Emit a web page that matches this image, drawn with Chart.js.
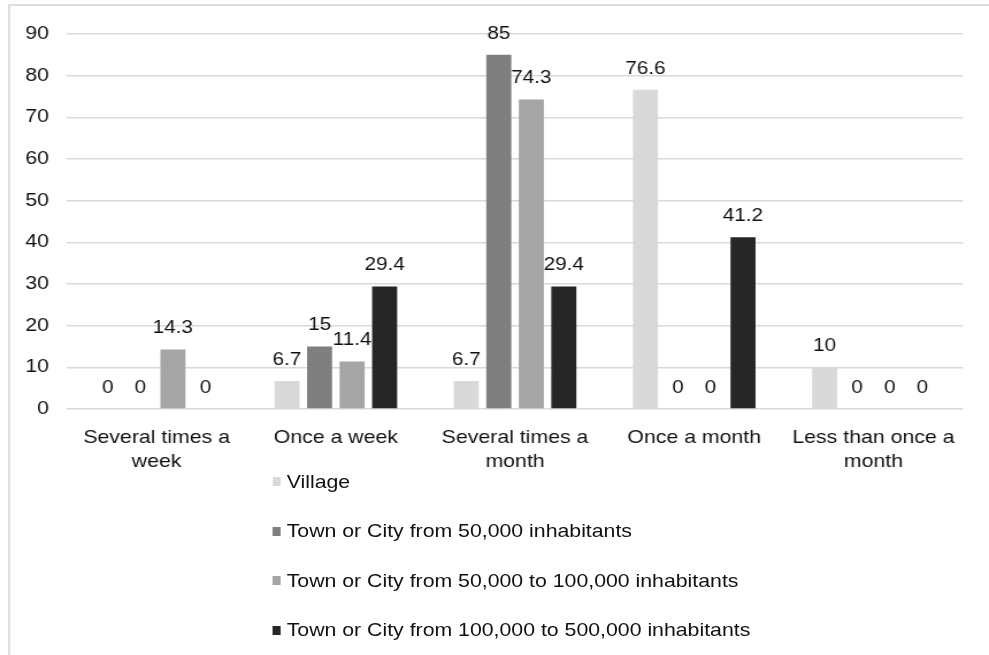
<!DOCTYPE html>
<html>
<head>
<meta charset="utf-8">
<script src="https://cdn.jsdelivr.net/npm/chart.js@4/dist/chart.umd.min.js"></script>
<style>
    html, body { margin: 0; padding: 0; background: #fff; }
    body { width: 989px; height: 655px; overflow: hidden; }
    /* layout is done at 860px wide and stretched to 989px */
    #stage { position: relative; width: 860px; height: 655px; transform: scaleX(1.15); transform-origin: 0 0; }
    #frame { position: absolute; left: 6.5px; top: 4px; right: -20px; bottom: -20px;
             border-top: 2px solid #dedede; border-left: 2px solid #dedede; }
    #chartBox { position: absolute; left: 0; top: 0; width: 860px; height: 485px; }
    #legend { position: absolute; left: 236.5px; top: 0; }
    .legend-item { position: absolute; left: 0; display: flex; align-items: center; white-space: nowrap;
                   height: 22px; font: 18.5px "Liberation Sans", Arial, sans-serif; color: #111; }
    .legend-box { width: 7.8px; height: 9px; margin-right: 5px; flex: none; }
</style>
</head>
<body>
<div id="stage">
    <div id="frame"></div>
    <div id="chartBox"><canvas id="freqChart"></canvas></div>
    <div id="legend"></div>
</div>
<script>
const categories = [
    ["Several times a", "week"],
    ["Once a week"],
    ["Several times a", "month"],
    ["Once a month"],
    ["Less than once a", "month"]
];
const village = [0, 6.7, 6.7, 76.6, 10];
const town50k = [0, 15, 85, 0, 0];
const town50to100k = [14.3, 11.4, 74.3, 0, 0];
const town100to500k = [0, 29.4, 29.4, 41.2, 0];
const yTicks = [0, 10, 20, 30, 40, 50, 60, 70, 80, 90];

const FONT = '"Liberation Sans", Arial, sans-serif';
const TEXT = '#111';

// value printed above every bar, zeros included
const barValueLabels = {
    id: 'barValueLabels',
    afterDatasetsDraw(chart) {
        const ctx = chart.ctx;
        ctx.save();
        ctx.font = '18px ' + FONT;
        ctx.fillStyle = TEXT;
        ctx.textAlign = 'center';
        ctx.textBaseline = 'middle';
        chart.data.datasets.forEach((ds, i) => {
            chart.getDatasetMeta(i).data.forEach((bar, j) => {
                ctx.fillText(String(ds.data[j]), bar.x, bar.y - 21);
            });
        });
        ctx.restore();
    }
};

const ctx = document.getElementById('freqChart').getContext('2d');
const chart = new Chart(ctx, {
    type: 'bar',
    data: {
        labels: categories,
        datasets: [
            { label: 'Village', data: village, backgroundColor: '#d9d9d9' },
            { label: 'Town or City from 50,000 inhabitants', data: town50k, backgroundColor: '#7f7f7f' },
            { label: 'Town or City from 50,000 to 100,000 inhabitants', data: town50to100k, backgroundColor: '#a5a5a5' },
            { label: 'Town or City from 100,000 to 500,000 inhabitants', data: town100to500k, backgroundColor: '#262626' }
        ]
    },
    options: {
        responsive: true,
        maintainAspectRatio: false,
        animation: false,
        datasets: { bar: { categoryPercentage: 0.726, barPercentage: 0.77, borderWidth: 0 } },
        layout: { padding: { top: 34, right: 22.6, bottom: 0, left: 0 } },
        scales: {
            x: {
                grid: { display: false },
                border: { display: false },
                ticks: {
                    color: TEXT,
                    font: { family: FONT, size: 18.5, lineHeight: 1.3 },
                    padding: 9,
                    maxRotation: 0,
                    autoSkip: false
                },
                // axis line stays at y=409 whatever the canvas height
                afterFit: (scale) => { scale.height = 485 - 409; }
            },
            y: {
                min: yTicks[0],
                max: yTicks[yTicks.length - 1],
                afterBuildTicks: (scale) => { scale.ticks = yTicks.map(v => ({ value: v })); },
                grid: { color: '#d9d9d9', lineWidth: 1.5, drawTicks: false },
                border: { display: false },
                ticks: {
                    color: TEXT,
                    font: { family: FONT, size: 18.5 },
                    padding: 15.7
                },
                afterFit: (scale) => { scale.width = 58.3; }
            }
        },
        plugins: {
            legend: { display: false },
            tooltip: { enabled: false }
        }
    },
    plugins: [barValueLabels]
});

// legend drawn as a vertical list under the chart
const legendEl = document.getElementById('legend');
Chart.defaults.plugins.legend.labels.generateLabels(chart).forEach((item, i) => {
    const row = document.createElement('div');
    row.className = 'legend-item';
    row.style.top = (470.5 + i * 49.5) + 'px';
    const box = document.createElement('span');
    box.className = 'legend-box';
    box.style.background = item.fillStyle;
    const label = document.createElement('span');
    label.textContent = item.text;
    row.appendChild(box);
    row.appendChild(label);
    legendEl.appendChild(row);
});
</script>
</body>
</html>
